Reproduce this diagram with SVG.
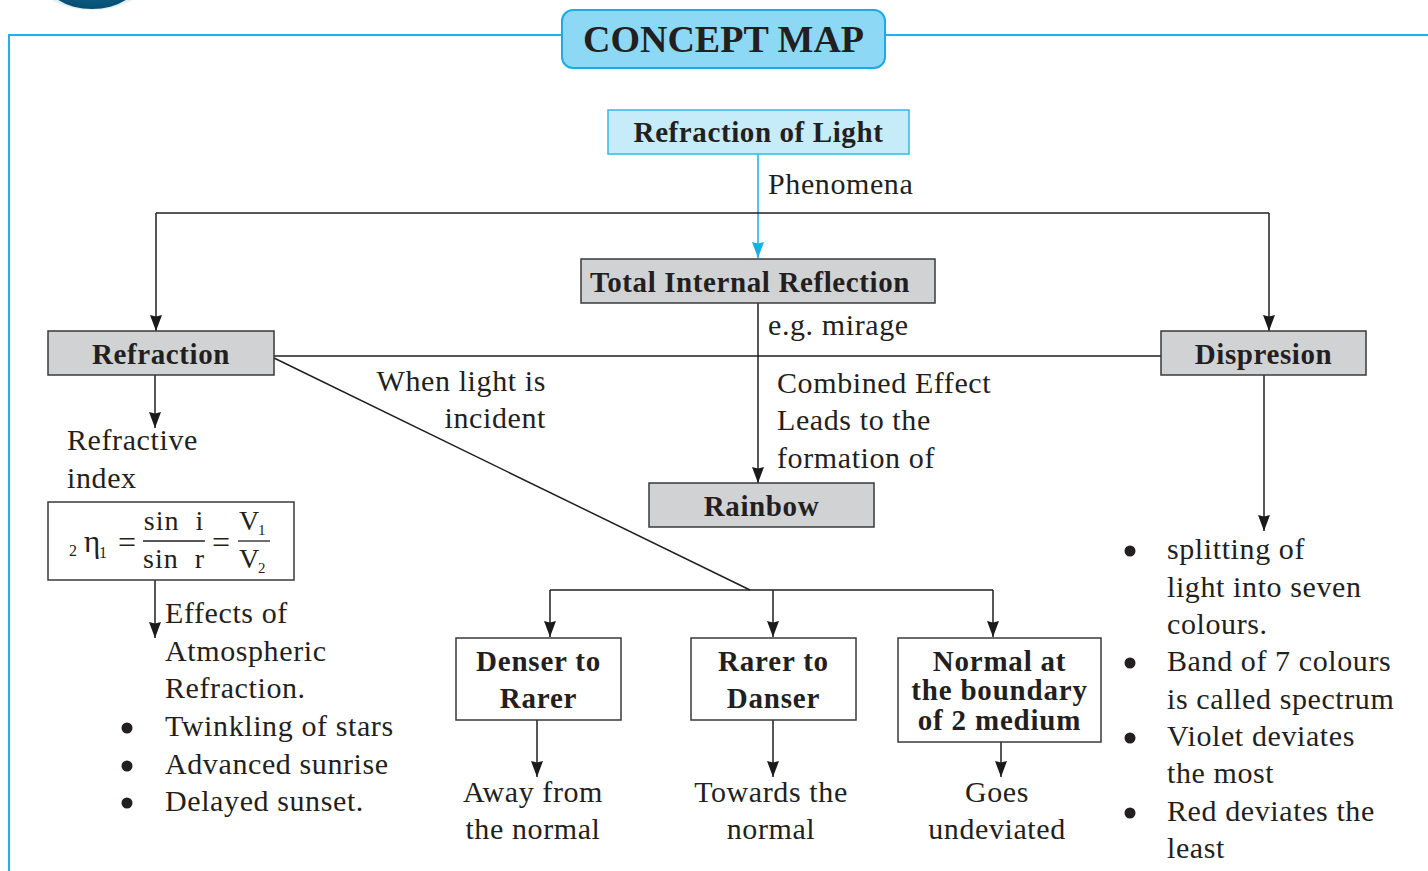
<svg xmlns="http://www.w3.org/2000/svg" width="1428" height="871" viewBox="0 0 1428 871">
  <defs>
    <marker id="arr" viewBox="0 0 16 12" refX="16" refY="6" markerWidth="16" markerHeight="12" markerUnits="userSpaceOnUse" orient="auto">
      <path d="M0,0 L16,6 L0,12 L1.5,6 Z" fill="#1a1a1a"/>
    </marker>
    <marker id="arrBlue" viewBox="0 0 16 12" refX="16" refY="6" markerWidth="16" markerHeight="12" markerUnits="userSpaceOnUse" orient="auto">
      <path d="M0,0 L16,6 L0,12 L1.5,6 Z" fill="#19aee8"/>
    </marker>
    <radialGradient id="badge" cx="0.5" cy="0.3" r="0.7">
      <stop offset="0" stop-color="#1d86b3"/>
      <stop offset="1" stop-color="#064d70"/>
    </radialGradient>
    <style>
      .t { font-family: "Liberation Serif", "Times New Roman", serif; font-size: 30px; fill: #231f20; letter-spacing: 0.6px; }
      .b { font-family: "Liberation Serif", "Times New Roman", serif; font-size: 29px; font-weight: bold; fill: #231f20; letter-spacing: 0.6px; text-anchor: middle; }
      .bs { font-family: "Liberation Serif", "Times New Roman", serif; font-size: 29px; font-weight: bold; fill: #231f20; letter-spacing: 0.8px; text-anchor: middle; }
      .m { font-family: "Liberation Serif", "Times New Roman", serif; fill: #231f20; }
      .grey { fill: #d1d2d4; stroke: #3a3a3a; stroke-width: 1.5; }
      .white { fill: #ffffff; stroke: #3a3a3a; stroke-width: 1.5; }
      .ln { fill: none; stroke: #1f1f1f; stroke-width: 1.5; }
      .ar { fill: none; stroke: #1f1f1f; stroke-width: 1.5; marker-end: url(#arr); }
      .c { text-anchor: middle; }
      .r { text-anchor: end; }
    </style>
  </defs>

  <rect width="1428" height="871" fill="#ffffff"/>

  <!-- corner badge, cut by the page edge -->
  <ellipse cx="92" cy="-20" rx="54" ry="30" fill="#cfe3ec" opacity="0.6"/>
  <ellipse cx="92" cy="-22" rx="48" ry="31" fill="url(#badge)"/>

  <!-- page frame -->
  <g id="frame" fill="none" stroke="#22b0ea" stroke-width="2">
    <path d="M562,35 H9 V871"/>
    <path d="M885,35 H1428"/>
  </g>

  <!-- heading -->
  <g id="title">
    <rect x="562" y="10" width="323" height="58" rx="11" fill="#8dd8f5" stroke="#1faae6" stroke-width="2"/>
    <text x="723.5" y="52" class="m c" font-size="38" font-weight="bold">CONCEPT MAP</text>
  </g>

  <!-- connectors -->
  <g id="connectors">
    <path d="M758,154 V258" fill="none" stroke="#19aee8" stroke-width="1.5" marker-end="url(#arrBlue)"/>
    <path class="ln" d="M156,213 H1269"/>
    <path class="ar" d="M156,213 V331"/>
    <path class="ar" d="M1269,213 V331"/>
    <path class="ar" d="M758,303 V483"/>
    <path class="ln" d="M274,356 H1161"/>
    <path class="ln" d="M274,358 L750,590"/>
    <path class="ln" d="M550,590 H993"/>
    <path class="ar" d="M550,590 V637"/>
    <path class="ar" d="M773,590 V637"/>
    <path class="ar" d="M993,590 V637"/>
    <path class="ar" d="M155,375 V428"/>
    <path class="ar" d="M155,580 V638"/>
    <path class="ar" d="M1264,375 V531"/>
    <path class="ar" d="M537,720 V777"/>
    <path class="ar" d="M773,720 V777"/>
    <path class="ar" d="M1001,742 V777"/>
  </g>

  <!-- connector labels -->
  <g id="labels">
    <text x="768" y="194" class="t">Phenomena</text>
    <text x="768" y="335" class="t">e.g. mirage</text>
    <text x="777" y="393" class="t">Combined Effect</text>
    <text x="777" y="430" class="t">Leads to the</text>
    <text x="777" y="468" class="t">formation of</text>
    <text x="546" y="391" class="t r">When light is</text>
    <text x="546" y="428" class="t r">incident</text>
    <text x="67" y="450" class="t">Refractive</text>
    <text x="67" y="488" class="t">index</text>
  </g>

  <g id="n-light">
    <rect x="608" y="110" width="301" height="44" fill="#c6ebf9" stroke="#35b7ea" stroke-width="1.5"/>
    <text x="758.5" y="142" class="b">Refraction of Light</text>
  </g>

  <g id="n-tir">
    <rect x="581" y="259" width="354" height="44" class="grey"/>
    <text x="750" y="292" class="b">Total Internal Reflection</text>
  </g>

  <g id="n-refraction">
    <rect x="48" y="331" width="226" height="44" class="grey"/>
    <text x="161" y="364" class="b">Refraction</text>
  </g>

  <g id="n-dispersion">
    <rect x="1161" y="331" width="205" height="44" class="grey"/>
    <text x="1263.5" y="364" class="b">Dispresion</text>
  </g>

  <g id="n-rainbow">
    <rect x="649" y="483" width="225" height="44" class="grey"/>
    <text x="761.5" y="516" class="b">Rainbow</text>
  </g>

  <!-- refractive index formula -->
  <g id="n-formula">
    <rect x="48" y="502" width="246" height="78" class="white"/>
    <text x="69" y="556" class="m" font-size="16">2</text>
    <text x="84" y="552" class="m" font-size="31">η</text>
    <text x="99" y="558" class="m" font-size="16">1</text>
    <text x="127" y="553" class="m c" font-size="32">=</text>
    <text x="174" y="530" class="m c" font-size="28" letter-spacing="1" xml:space="preserve">sin  i</text>
    <line x1="143" y1="541" x2="205" y2="541" stroke="#231f20" stroke-width="1.3"/>
    <text x="174" y="568" class="m c" font-size="28" letter-spacing="1" xml:space="preserve">sin  r</text>
    <text x="221" y="553" class="m c" font-size="32">=</text>
    <text x="239" y="530" class="m" font-size="28">V</text>
    <text x="258" y="535" class="m" font-size="15">1</text>
    <line x1="238" y1="541" x2="270" y2="541" stroke="#231f20" stroke-width="1.3"/>
    <text x="239" y="568" class="m" font-size="28">V</text>
    <text x="258" y="573" class="m" font-size="15">2</text>
  </g>

  <g id="n-atmospheric">
    <text x="165" y="623" class="t">Effects of</text>
    <text x="165" y="661" class="t">Atmospheric</text>
    <text x="165" y="698" class="t">Refraction.</text>
    <circle cx="127" cy="728" r="5.5" fill="#231f20"/>
    <text x="165" y="736" class="t">Twinkling of stars</text>
    <circle cx="127" cy="766" r="5.5" fill="#231f20"/>
    <text x="165" y="774" class="t">Advanced sunrise</text>
    <circle cx="127" cy="803" r="5.5" fill="#231f20"/>
    <text x="165" y="811" class="t">Delayed sunset.</text>
  </g>

  <g id="n-denser">
    <rect x="456" y="638" width="165" height="82" class="white"/>
    <text x="538.5" y="671" class="bs">Denser to</text>
    <text x="538.5" y="708" class="bs">Rarer</text>
  </g>

  <g id="n-rarer">
    <rect x="691" y="638" width="165" height="82" class="white"/>
    <text x="773.5" y="671" class="bs">Rarer to</text>
    <text x="773.5" y="708" class="bs">Danser</text>
  </g>

  <g id="n-normal">
    <rect x="898" y="638" width="203" height="104" class="white"/>
    <text x="999.5" y="671" class="bs">Normal at</text>
    <text x="999.5" y="700" class="bs">the boundary</text>
    <text x="999.5" y="730" class="bs">of 2 medium</text>
  </g>

  <g id="n-away">
    <text x="533" y="802" class="t c">Away from</text>
    <text x="533" y="839" class="t c">the normal</text>
  </g>

  <g id="n-towards">
    <text x="771" y="802" class="t c">Towards the</text>
    <text x="771" y="839" class="t c">normal</text>
  </g>

  <g id="n-undeviated">
    <text x="997" y="802" class="t c">Goes</text>
    <text x="997" y="839" class="t c">undeviated</text>
  </g>

  <g id="n-spectrum">
    <circle cx="1130" cy="551" r="5.5" fill="#231f20"/>
    <text x="1167" y="559" class="t">splitting of</text>
    <text x="1167" y="597" class="t">light into seven</text>
    <text x="1167" y="634" class="t">colours.</text>
    <circle cx="1130" cy="663" r="5.5" fill="#231f20"/>
    <text x="1167" y="671" class="t">Band of 7 colours</text>
    <text x="1167" y="709" class="t">is called spectrum</text>
    <circle cx="1130" cy="738" r="5.5" fill="#231f20"/>
    <text x="1167" y="746" class="t">Violet deviates</text>
    <text x="1167" y="783" class="t">the most</text>
    <circle cx="1130" cy="813" r="5.5" fill="#231f20"/>
    <text x="1167" y="821" class="t">Red deviates the</text>
    <text x="1167" y="858" class="t">least</text>
  </g>
</svg>
